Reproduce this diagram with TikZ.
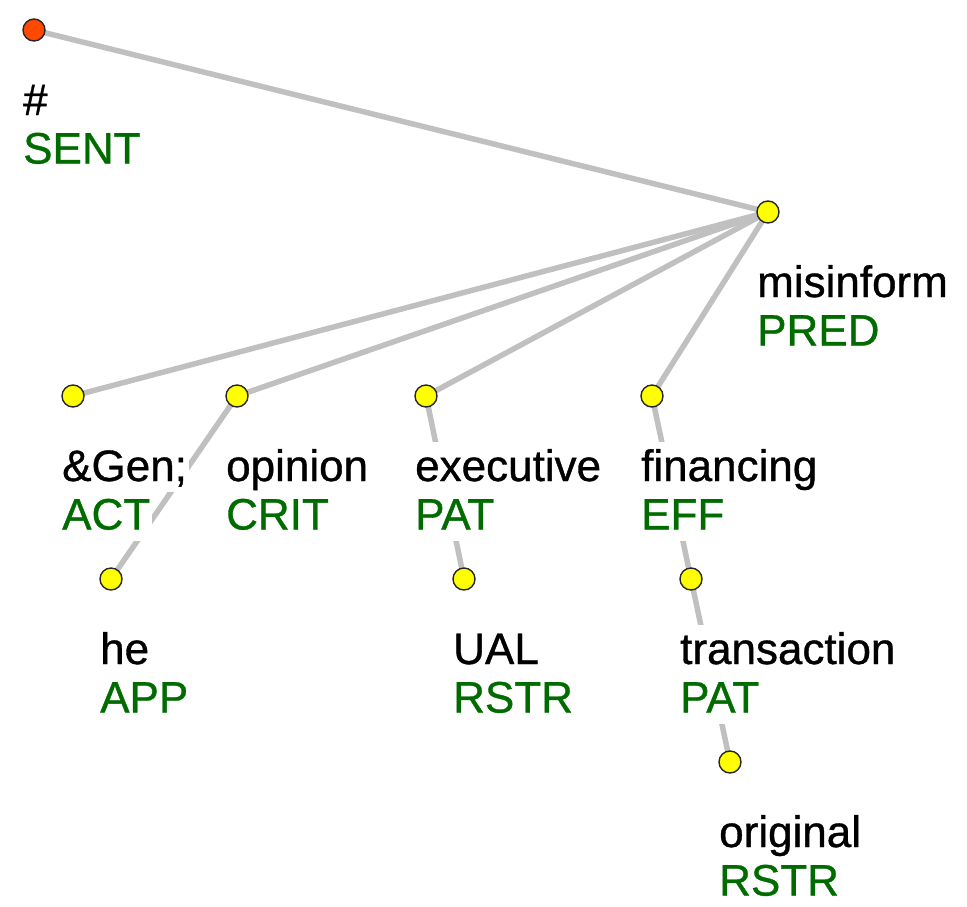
\documentclass[tikz,border=0pt]{standalone}
\usepackage{fontspec}
\setmainfont{Liberation Sans}
\newfontfamily\labelfont[FakeBold=0.8]{Liberation Sans}
\definecolor{edgegray}{RGB}{192,192,192}
\definecolor{rolegreen}{RGB}{0,108,0}
\definecolor{dotyellow}{RGB}{255,255,0}
\definecolor{rootred}{RGB}{255,72,0}
\pgfdeclarelayer{edges}
\pgfdeclarelayer{labels}
\pgfsetlayers{edges,labels,main}
\begin{document}
\begin{tikzpicture}[x=1pt,y=-1pt,
  dot/.style={circle,draw=black!85,line width=1.4pt,fill=dotyellow,minimum size=22pt,inner sep=0pt},
  rootdot/.style={dot,fill=rootred},
  edge/.style={draw=edgegray,line width=5.5pt},
  word/.style={anchor=base west,fill=white,inner xsep=2pt,inner ysep=1pt,
    text height=38pt,text depth=10pt,font=\labelfont\fontsize{44}{48}\selectfont},
  role/.style={word,text=rolegreen}]
\path[use as bounding box] (0,0) rectangle (967,906);

% tree nodes
\node[rootdot] (sent) at (34,30) {};
\node[dot] (pred) at (768,212) {};
\node[dot] (act) at (73,396) {};
\node[dot] (crit) at (237,396) {};
\node[dot] (pat) at (426,396) {};
\node[dot] (eff) at (652,396) {};
\node[dot] (app) at (111,579) {};
\node[dot] (rstr) at (464,579) {};
\node[dot] (effpat) at (691,579) {};
\node[dot] (orig) at (730,762) {};

% dependency edges
\begin{pgfonlayer}{edges}
\draw[edge] (sent.center) -- (pred.center);
\draw[edge] (pred.center) -- (act.center);
\draw[edge] (pred.center) -- (crit.center);
\draw[edge] (pred.center) -- (pat.center);
\draw[edge] (pred.center) -- (eff.center);
\draw[edge] (crit.center) -- (app.center);
\draw[edge] (pat.center) -- (rstr.center);
\draw[edge] (eff.center) -- (effpat.center);
\draw[edge] (effpat.center) -- (orig.center);
\end{pgfonlayer}

% word and functor labels
\begin{pgfonlayer}{labels}
\path (sent) ++(-13,85) node[word] (lsent) {\#} ++(0,48.5) node[role] (fsent) {SENT};
\path (pred) ++(-13,85) node[word] (lpred) {misinform} ++(0,48.5) node[role] (fpred) {PRED};
\path (act) ++(-13,85) node[word] (lact) {\&Gen;} ++(0,48.5) node[role] (fact) {ACT};
\path (crit) ++(-13,85) node[word] (lcrit) {opinion} ++(0,48.5) node[role] (fcrit) {CRIT};
\path (pat) ++(-13,85) node[word] (lpat) {executive} ++(0,48.5) node[role] (fpat) {PAT};
\path (eff) ++(-13,85) node[word] (leff) {financing} ++(0,48.5) node[role] (feff) {EFF};
\path (app) ++(-13,85) node[word] (lapp) {he} ++(0,48.5) node[role] (fapp) {APP};
\path (rstr) ++(-13,85) node[word] (lrstr) {UAL} ++(0,48.5) node[role] (frstr) {RSTR};
\path (effpat) ++(-13,85) node[word] (leffpat) {transaction} ++(0,48.5) node[role] (feffpat) {PAT};
\path (orig) ++(-13,85) node[word] (lorig) {original} ++(0,48.5) node[role] (forig) {RSTR};
\end{pgfonlayer}
\end{tikzpicture}
\end{document}
